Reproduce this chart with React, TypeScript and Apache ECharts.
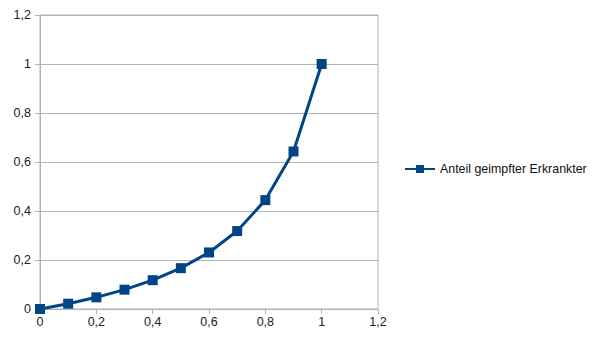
import React, { useEffect, useRef } from "react";
import * as echarts from "echarts";

const xValues = [0, 0.1, 0.2, 0.3, 0.4, 0.5, 0.6, 0.7, 0.8, 0.9, 1];
const yValues = [0, 0.0217, 0.0476, 0.0789, 0.1176, 0.1667, 0.2308, 0.3182, 0.4444, 0.6429, 1];
const seriesName = "Anteil geimpfter Erkrankter";

const fmt = (v: number) => String(Math.round(v * 10) / 10).replace(".", ",");

export default function App() {
  const ref = useRef<HTMLDivElement>(null);
  useEffect(() => {
    if (!ref.current) return;
    const chart = echarts.init(ref.current, undefined, { renderer: "svg" });
    const font = "'Liberation Sans', Arial, sans-serif";
    chart.setOption({
      animation: false,
      textStyle: { fontFamily: font },
      grid: {
        left: 40,
        top: 15,
        width: 338,
        height: 294,
        show: true,
        borderColor: "#b3b3b3",
        borderWidth: 1,
      },
      xAxis: {
        type: "value",
        min: 0,
        max: 1.2,
        interval: 0.2,
        axisLine: { show: true, lineStyle: { color: "#b3b3b3" } },
        axisTick: { show: true, length: 5, lineStyle: { color: "#b3b3b3" } },
        splitLine: { show: false },
        axisLabel: { formatter: fmt, color: "#222", fontSize: 12.5, margin: 6, fontFamily: font },
      },
      yAxis: {
        type: "value",
        min: 0,
        max: 1.2,
        interval: 0.2,
        axisLine: { show: true, lineStyle: { color: "#b3b3b3" } },
        axisTick: { show: true, length: 5, lineStyle: { color: "#b3b3b3" } },
        splitLine: { show: true, lineStyle: { color: "#b3b3b3" } },
        axisLabel: { formatter: fmt, color: "#222", fontSize: 12.5, margin: 9, fontFamily: font },
      },
      legend: {
        left: 404,
        top: 163,
        padding: 0,
        orient: "vertical",
        itemWidth: 30,
        itemHeight: 10,
        textStyle: { color: "#111", fontSize: 12.4, fontFamily: font },
        data: [seriesName],
      },
      series: [
        {
          name: seriesName,
          type: "line",
          data: xValues.map((x, i) => [x, yValues[i]]),
          symbol: "rect",
          symbolSize: 10,
          clip: false,
          lineStyle: { color: "#004586", width: 3 },
          itemStyle: { color: "#004586" },
        },
      ],
    });
    return () => chart.dispose();
  }, []);
  return <div ref={ref} style={{ width: 605, height: 340, position: "absolute", left: 0, top: 0, background: "#fff" }} />;
}
